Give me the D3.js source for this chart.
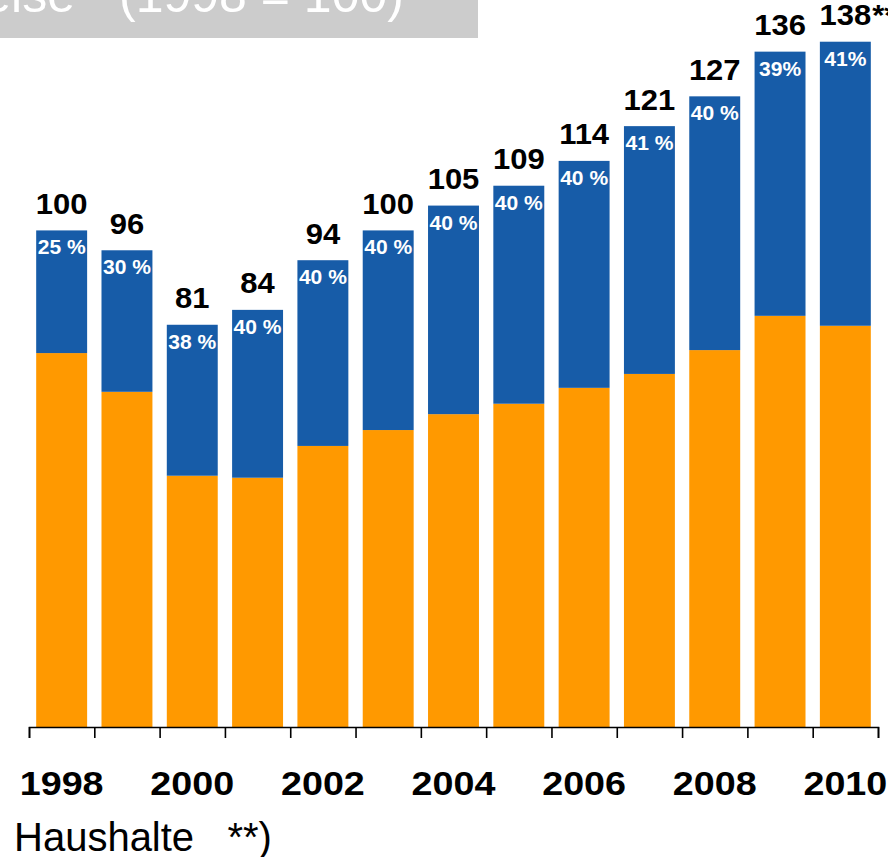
<!DOCTYPE html>
<html>
<head>
<meta charset="utf-8">
<script src="https://cdn.jsdelivr.net/npm/d3@7"></script>
<style>
  html, body { margin: 0; padding: 0; background: #fff; }
  svg { display: block; font-family: "Liberation Sans", Arial, Helvetica, sans-serif; }
  text { white-space: pre; }
</style>
</head>
<body>
<svg id="chart" width="888" height="857"></svg>
<script>
// ---- data ----
const years = [1998, 1999, 2000, 2001, 2002, 2003, 2004, 2005, 2006, 2007, 2008, 2009, 2010];
const totals = [100, 96, 81, 84, 94, 100, 105, 109, 114, 121, 127, 136, 138];
const lowerPart = [75.3, 67.5, 50.6, 50.2, 56.6, 59.8, 63.0, 65.1, 68.3, 71.1, 75.9, 82.8, 80.8];
const shareLabels = ["25 %", "30 %", "38 %", "40 %", "40 %", "40 %", "40 %", "40 %", "40 %", "41 %", "40 %", "39%", "41%"];
const totalLabels = ["100", "96", "81", "84", "94", "100", "105", "109", "114", "121", "127", "136", "138"];
const totalNotes = ["", "", "", "", "", "", "", "", "", "", "", "", "**"];
const yearLabels = ["1998", "", "2000", "", "2002", "", "2004", "", "2006", "", "2008", "", "2010"];
const titleLeft = "Strompreise";
const titleRight = "(1998 = 100)";
const footText = "Haushalte   **)";

// ---- styles ----
const BLUE = "#175CA8";
const ORANGE = "#FF9900";

const svg = d3.select("#chart");

const x = d3.scaleBand().domain(years).range([29, 878]).paddingInner(0.22).paddingOuter(0.11);
const y = d3.scaleLinear().domain([0, 146.4]).range([727, 0]);

// title box
svg.append("rect").attr("x", 0).attr("y", 0).attr("width", 478).attr("height", 38).attr("fill", "#CCCCCC");
svg.append("text").attr("x", 75).attr("y", 12).attr("text-anchor", "end")
  .attr("font-size", 50).attr("fill", "#fff").text(titleLeft);
svg.append("text").attr("x", 119).attr("y", 12).attr("text-anchor", "start")
  .attr("font-size", 50).attr("fill", "#fff").text(titleRight);

const rows = years.map((yr, i) => ({
  year: yr, total: totals[i], lower: lowerPart[i],
  share: shareLabels[i], label: totalLabels[i], note: totalNotes[i], yl: yearLabels[i]
}));

const bars = svg.append("g");
bars.selectAll("rect.lower").data(rows).join("rect")
  .attr("class", "lower")
  .attr("x", d => x(d.year)).attr("width", x.bandwidth())
  .attr("y", d => y(d.lower)).attr("height", d => y(0) - y(d.lower))
  .attr("fill", ORANGE);
bars.selectAll("rect.upper").data(rows).join("rect")
  .attr("class", "upper")
  .attr("x", d => x(d.year)).attr("width", x.bandwidth())
  .attr("y", d => y(d.total)).attr("height", d => y(d.lower) - y(d.total))
  .attr("fill", BLUE);

// share labels (white, inside blue)
svg.append("g").selectAll("text").data(rows).join("text")
  .attr("transform", d => `translate(${x(d.year) + x.bandwidth() / 2},${y(d.total) + 24}) scale(1.08,1)`)
  .attr("text-anchor", "middle").attr("font-weight", "bold").attr("font-size", 19.5)
  .attr("fill", "#fff").text(d => d.share);

// total labels
const tl = svg.append("g").selectAll("g").data(rows).join("g")
  .attr("transform", d => `translate(${x(d.year) + x.bandwidth() / 2},${y(d.total) - 16.5}) scale(1.05,1)`);
tl.append("text").attr("text-anchor", "middle").attr("font-weight", "bold").attr("font-size", 29.5)
  .attr("fill", "#000").text(d => d.label);
tl.filter(d => d.note).append("text")
  .attr("x", function() { return this.parentNode.querySelector("text").getComputedTextLength() / 2 + 1; })
  .attr("font-weight", "bold").attr("font-size", 29.5).attr("fill", "#000").text(d => d.note);

// axis
const xt = d3.scaleLinear().domain([0, years.length]).range([29, 878]);
const axis = d3.axisBottom(xt).tickValues(d3.range(0, years.length + 1)).tickSize(11).tickFormat("");
const ag = svg.append("g").attr("transform", "translate(0,727)").call(axis);
ag.selectAll("path, line").attr("stroke", "#000").attr("stroke-width", 1.6);

// year labels
svg.append("g").selectAll("text").data(rows.filter(d => d.yl)).join("text")
  .attr("transform", d => `translate(${x(d.year) + x.bandwidth() / 2},795) scale(1.16,1)`)
  .attr("text-anchor", "middle").attr("font-weight", "bold").attr("font-size", 32.5)
  .attr("fill", "#000").text(d => d.yl);

// footer
svg.append("text").attr("x", 14).attr("y", 851).attr("font-size", 40).attr("fill", "#000").text(footText);
</script>
</body>
</html>
